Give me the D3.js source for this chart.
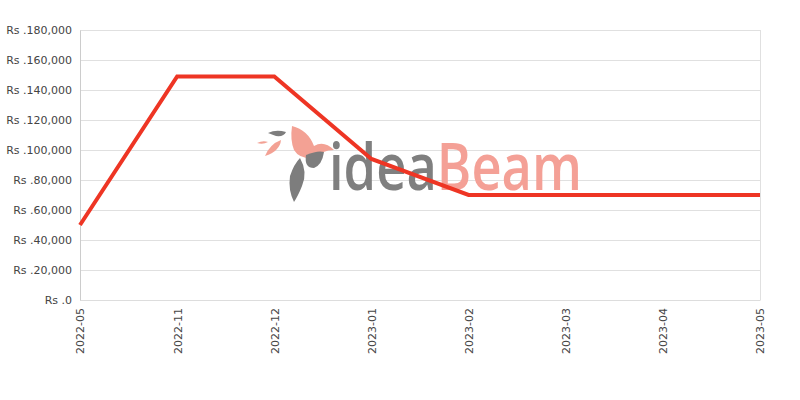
<!DOCTYPE html>
<html><head><meta charset="utf-8">
<script src="https://cdn.jsdelivr.net/npm/d3@7"></script>
<style>body{margin:0;background:#fff}svg{display:block}</style>
</head><body>
<svg id="c" width="800" height="400"></svg>
<script>
const categories = ["2022-05","2022-11","2022-12","2023-01","2023-02","2023-03","2023-04","2023-05"];
const prices = [50000,149000,149000,94000,70000,70000,70000,70000];
const yTicks = [0,20000,40000,60000,80000,100000,120000,140000,160000,180000];

const svg = d3.select("#c");
const m = {l:80, r:40, t:30, b:100};
const W = 800, H = 400;
const x = d3.scalePoint().domain(categories).range([m.l, W - m.r]);
const y = d3.scaleLinear().domain([0,180000]).range([H - m.b, m.t]);
const fmt = d3.format(",");

// gridlines
svg.append("g").selectAll("line").data(yTicks).join("line")
  .attr("x1", m.l).attr("x2", W - m.r)
  .attr("y1", d => y(d) + 0.5).attr("y2", d => y(d) + 0.5)
  .attr("stroke", "#e0e0e0").attr("stroke-width", 1);
// right border
svg.append("line").attr("x1", W - m.r + 0.5).attr("x2", W - m.r + 0.5)
  .attr("y1", m.t).attr("y2", H - m.b).attr("stroke", "#e0e0e0");

// watermark
const defs = svg.append("defs");
const g = defs.append("linearGradient").attr("id","wmg").attr("gradientUnits","userSpaceOnUse")
  .attr("x1",329).attr("x2",583).attr("y1",0).attr("y2",0);
g.append("stop").attr("offset","0.435").attr("stop-color","#7f7f7f");
g.append("stop").attr("offset","0.435").attr("stop-color","#f4a096");
const wm = svg.append("g");
wm.append("path").attr("d","M268,133 Q276,129 286,132 Q284,137 276,136 Z").attr("fill","#7d7d7d");
wm.append("path").attr("d","M257,143 Q263,140 268,142 Q263,145 257,143 Z").attr("fill","#f3a194");
wm.append("path").attr("d","M265,156 Q270,144 281,140 Q280,151 265,156 Z").attr("fill","#f3a194");
wm.append("path").attr("d","M292,126 Q308,130 314,146 Q324,140 334,150 Q322,150 316,158 Q300,160 294,150 Q290,140 292,126 Z").attr("fill","#f3a194");
wm.append("path").attr("d","M306,155 Q318,150 324,152 Q322,165 314,168 Q304,168 306,155 Z").attr("fill","#7d7d7d");
wm.append("path").attr("d","M300,158 Q308,172 302,186 Q298,196 294,202 Q288,190 290,176 Q294,164 300,158 Z").attr("fill","#7d7d7d");
wm.append("text").attr("x", 329).attr("y", 190)
  .attr("font-family","'Open Sans', sans-serif").attr("font-weight",600).attr("font-size", 66)
  .attr("fill","url(#wmg)").attr("textLength",253).attr("lengthAdjust","spacingAndGlyphs").text("ideaBeam");

// axes
const yAxis = svg.append("g").attr("transform", `translate(${m.l},0)`)
  .call(d3.axisLeft(y).tickValues(yTicks).tickSize(0).tickPadding(8).tickFormat(d => "Rs ." + fmt(d)));
yAxis.select(".domain").attr("stroke","#cccccc");
yAxis.selectAll("text").attr("fill","#444").attr("font-size",11).attr("font-family","'DejaVu Sans', sans-serif");

const xAxis = svg.append("g").attr("transform", `translate(0,${H - m.b})`)
  .call(d3.axisBottom(x).tickSize(0).tickPadding(0));
xAxis.select(".domain").attr("stroke","#dddddd");
xAxis.selectAll("text")
  .attr("fill","#444").attr("font-size",11).attr("font-family","'DejaVu Sans', sans-serif")
  .attr("text-anchor","end").attr("dy","0.35em")
  .attr("transform","translate(0,8) rotate(-90)").attr("x",0).attr("y",0);

// line
const line = d3.line().x((d,i) => x(categories[i])).y(d => y(d));
svg.append("path").datum(prices).attr("d", line)
  .attr("fill","none").attr("stroke","#ee3524").attr("stroke-width",4)
  .attr("stroke-linejoin","miter");
</script>
</body></html>
